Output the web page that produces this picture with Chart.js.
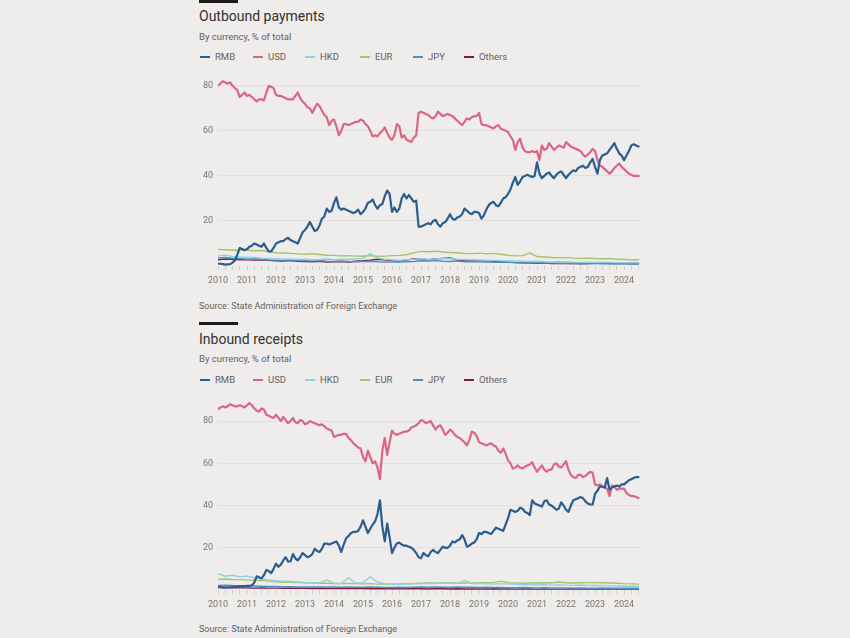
<!DOCTYPE html>
<html><head><meta charset="utf-8">
<script src="https://cdn.jsdelivr.net/npm/chart.js@4.4.1/dist/chart.umd.min.js"></script>
<style>
html,body{margin:0;padding:0}
body{background:#eeedeb;width:850px;height:638px;overflow:hidden;position:relative;font-family:Roboto,"Open Sans",sans-serif}
.bar{position:absolute;left:199px;width:39px;height:3px;background:#1d1b1a}
.title{position:absolute;left:199px;font-size:14px;line-height:14px;color:#33302e;white-space:nowrap}
.sub{position:absolute;left:199px;font-size:9.5px;line-height:10px;color:#66605c;white-space:nowrap}
.src{position:absolute;left:199px;font-size:9px;line-height:10px;color:#66605c;white-space:nowrap}
.leg{position:absolute;font-size:9.5px;line-height:10px;color:#66605c;white-space:nowrap}
.sw{position:absolute;width:10px;height:2px}
canvas{position:absolute;left:0}
</style></head>
<body>
<div class="bar" style="top:0px"></div>
<div class="title" style="top:9px">Outbound payments</div>
<div class="sub" style="top:32px">By currency, % of total</div>
<div id="leg1"></div>
<canvas id="c1" width="850" height="292" style="top:0px"></canvas>
<div class="src" style="top:301px">Source: State Administration of Foreign Exchange</div>

<div class="bar" style="top:322px"></div>
<div class="title" style="top:332px">Inbound receipts</div>
<div class="sub" style="top:354px">By currency, % of total</div>
<div id="leg2"></div>
<canvas id="c2" width="850" height="296" style="top:320px"></canvas>
<div class="src" style="top:624px">Source: State Administration of Foreign Exchange</div>

<script>
// ---- categories / labels ----
const seriesNames = ["RMB", "USD", "HKD", "EUR", "JPY", "Others"];
const seriesColors = ["#2b5c8f", "#dc6488", "#8dd3df", "#a9c06c", "#4a8fcc", "#7c1d3f"];
const yearTicks = [2010,2011,2012,2013,2014,2015,2016,2017,2018,2019,2020,2021,2022,2023,2024];
const yTickValues = [20, 40, 60, 80];
const startYear = 2010; // monthly series start Jan 2010, quarterly series start Q1 2010

// ---- Outbound payments, monthly (% of total) ----
const outRMB = [
 1,1,0.8,0.6,0.7,0.8,1.5,2.5,5,8,7.5,7,
 7.5,8.5,9,10,9.5,9,8.5,10,8,6.5,6.5,8,
 10,10.5,11,11,12,12.5,11.5,11,10.5,10,12.5,15,
 16,17.5,19.5,17.5,15.5,16,18,21,22,25.5,24,24.5,
 28,30.5,26,25,25.5,25,24.5,24,23.5,24,25,23,
 24,25.5,28,28.5,29.5,27,25.5,27,27.5,31,33.5,32,
 24,26,24,25.5,30,32,30,31.5,30,28.5,29,17.5,
 17.5,18,18.5,19,18.5,20,20.5,18.5,17.5,19,19.5,21,
 23,21,20.5,21.5,22,23,25.5,24.5,23.5,23,24,24,
 23.5,21,22.5,25,27,28,28.5,27,26.5,28,30,30.5,
 32,34,37,39.5,36,37.5,39.5,40,40.5,40,39.5,40,
 46,41,39,40,41,41.5,40,39,40.5,41.5,42,40.5,
 39,40.5,41.5,42.5,42,43.5,44,44.5,43.5,44,46,47.5,
 44,41,47,49,49.5,50,51.5,53,54.5,52,50,49,
 47,49,51,53.5,54,53.5,53];
const outUSD = [
 80,81,82,81.5,81,81.5,80,79,78,75,76,77,
 75.5,76,75,74,73,74,74,73.5,77,80,79.5,79,
 76,75.5,75.5,75,74.5,74,74,74,75.5,77,74.5,73,
 72,70.5,70,68,70,72,71,69,67,66,62.5,64.5,
 65,62,58,60,63,63,62.5,63,63.5,64,64,65,
 64.5,63,62,60,57.5,58,57.5,59,60,61.5,59,57,
 56,58,63,62,57,58,56,55.5,55,57,58,68,
 68.5,68,67.5,67,66,65.5,66.5,68.5,67.5,66.5,67,67.5,
 67,66.5,65.5,64.5,63.5,62.5,64,65.5,65,66,66.5,66.5,
 68,63,62.5,62.5,62,61.5,61,62,62.5,61,60.5,60,
 59.5,57.5,56,51.5,55,56.5,52.5,51,50.5,50.5,51,50.5,
 51,47,53.5,51.5,52,54.5,53,51.5,52.5,53.5,53,52.5,
 55,54,53,52.5,52,51.5,51,49.5,48.5,49.5,50.5,52,
 51,47,44.5,44,43,42,41,42,43.5,44.5,45.5,44,
 43,42,41,40.5,40,40,40];
// quarterly
const outHKD = [4.5,4.8,4.2,4.0, 3.8,3.9,3.5,3.3, 3.2,3.0,3.1,2.9, 3.0,2.8,2.9,3.1, 2.8,3.0,2.9,3.2, 3.4,5.5,3.5,3.0, 2.8,2.5,2.7,3.0, 3.2,3.0,3.1,3.3, 3.2,3.0,2.9,2.8, 2.7,2.6,2.5,2.4, 2.3,2.2,2.1,2.0, 2.1,1.9,1.8,1.9, 1.8,1.7,1.6,1.7, 1.6,1.7,1.6,1.5, 1.5,1.6,1.5];
const outEUR = [7.4,7.2,7.0,7.1, 7.0,6.8,6.9,6.3, 5.9,5.8,5.6,5.4, 5.2,5.5,5.1,4.8, 4.7,4.5,4.6,4.4, 4.3,4.6,4.2,4.4, 4.6,4.7,5.0,5.8, 6.5,6.3,6.6,6.2, 6.0,5.9,5.6,5.5, 5.7,5.4,5.6,5.2, 4.8,4.5,4.6,5.8, 4.2,4.0,3.8,3.7, 3.7,3.5,3.4,3.5, 3.3,3.2,3.3,3.0, 2.9,2.8,2.8];
const outJPY = [3.6,3.8,3.5,3.3, 3.0,3.2,2.9,2.7, 2.6,2.5,2.7,2.4, 2.3,2.2,2.4,2.1, 2.0,2.2,2.0,1.9, 2.0,2.1,1.9,1.8, 1.7,1.8,1.9,2.0, 2.3,2.2,2.4,2.1, 2.0,2.2,1.9,2.0, 1.9,2.0,1.8,1.7, 1.6,1.5,1.4,1.5, 1.4,1.3,1.4,1.2, 1.2,1.1,1.2,1.1, 1.1,1.0,1.1,1.0, 1.0,1.1,1.0];
const outOthers = [2.8,3.1,3.0,2.7, 2.9,2.6,2.8,2.5, 2.3,2.2,2.4,2.1, 2.0,1.9,2.1,1.8, 1.9,2.0,1.8,2.1, 2.3,2.6,3.0,2.8, 2.4,2.2,2.6,3.2, 3.0,2.8,3.1,3.4, 3.6,2.6,2.3,2.2, 2.1,2.0,1.9,1.8, 1.7,1.5,1.4,1.3, 1.2,1.3,1.1,1.2, 1.1,1.2,1.0,1.1, 1.2,1.3,1.1,1.2, 1.1,1.0,1.0];

// ---- Inbound receipts, monthly (% of total) ----
const inRMB = [
 1.5,1.5,1.2,1.2,1.3,1.3,1.5,1.5,1.6,1.8,1.8,1.9,
 2,2,2.2,3.5,6.5,6,5.5,7,9.5,9,8,10,
 12.5,11,12,14,15.5,13.5,13.5,17,15,14,15.5,17.5,
 16.5,15.5,16,17,19.5,18.5,18,19.5,22,22,21.5,22,
 22.5,23,21,18,21.5,24.5,25.5,27,27.5,27.5,28,30,
 33,30,27,29,31,32.5,36,42.5,30,23,31.5,25,
 17.5,20,22,22.5,21.5,21,21,20.5,20,19,17.5,15.5,
 15,17.5,16.5,16,18,19,18,17.5,19,20.5,20,20,
 21,23,22.5,23.5,24,26,24,20.5,21,22,22.5,24,
 27,26.5,27.5,27.5,27,26.5,28,29.5,29,28.5,28,31,
 34,38,37.5,37,37.5,39,38.5,37,36.5,35.5,42.5,41,
 40.5,40,39.5,42,42.5,40.5,40,39,38,38.5,41.5,40,
 38,37,40,42.5,43,43.5,44,43.5,42,41,40.5,40.5,
 45.5,47,49,49,48.5,53,47.5,48.5,49,49.5,49,50,
 50,51,52,52.5,53,53.5,53.5];
const inUSD = [
 85.5,86.5,87,86.5,87,88,87.5,87,87,87.5,87,86.5,
 87.5,88.5,87.5,86,85,84.5,86,85.5,83,82.5,82,81.5,
 83,81.5,80,82,80.5,79,80,81.5,79.5,79,80.5,80,
 78.5,79,80,79.5,79,78.5,78,78.5,77.5,76.5,76,75.5,
 72.5,73,73.5,73.5,74,74,72,71,69.5,68.5,67.5,67,
 63,61,66,63,60,61,58,52.5,66,72,64,70,
 75.5,74,73.5,74,74.5,75,75,75.5,77,77.5,78,79,
 80.5,80,79,79.5,80,78,76,77.5,78,76,73.5,74.5,
 76,75,73.5,72.5,72,71,70,68.5,71,75,74.5,73,
 70,69.5,69,68.5,69,69.5,68.5,68,66,65,67,64.5,
 61.5,60,57.5,58,59,58,57.5,58.5,59,59.5,60.5,58,
 56,57.5,59,57,56,57,57,59.5,60,58.5,58,59.5,
 61,57,54.5,53.5,53,54.5,54.5,53.5,54,55,56,55.5,
 50,49.5,50,49,48.5,48,44.5,49.5,49,47.5,48,48,
 48,46,45,44.5,44.5,44,43.5];
// quarterly
const inHKD = [7.8,6.5,7.0,6.2, 6.6,5.8,5.2,4.8, 4.4,4.2,4.0,3.8, 3.6,3.5,3.3,4.8, 3.2,3.0,5.8,3.2, 3.5,6.2,3.8,3.0, 2.9,2.7,2.8,3.0, 3.0,3.2,3.1,3.3, 3.2,3.0,4.6,3.1, 3.0,2.9,2.8,3.0, 2.8,2.7,2.6,2.5, 2.4,2.5,2.3,2.4, 2.3,2.2,2.4,2.2, 2.1,2.2,2.0,1.9, 1.8,1.8,1.7];
const inEUR = [5.0,5.2,5.0,4.9, 4.8,4.6,4.5,4.2, 3.9,3.7,3.6,3.5, 3.4,3.3,3.2,3.2, 3.1,3.0,3.1,3.0, 2.9,3.0,2.8,2.9, 2.8,2.9,3.0,3.1, 3.2,3.3,3.2,3.4, 3.3,3.2,3.3,3.4, 3.3,3.4,3.5,4.2, 3.5,3.3,3.2,3.3, 3.4,3.3,3.4,3.8, 3.4,3.3,3.4,3.5, 3.5,3.4,3.3,3.2, 3.0,2.9,2.8];
const inJPY = [2.2,2.3,2.1,2.0, 2.0,1.9,1.8,1.7, 1.7,1.6,1.6,1.5, 1.5,1.4,1.5,1.4, 1.4,1.3,1.4,1.3, 1.3,1.4,1.3,1.2, 1.2,1.3,1.2,1.3, 1.4,1.3,1.4,1.3, 1.3,1.4,1.3,1.3, 1.2,1.3,1.2,1.2, 1.1,1.1,1.2,1.1, 1.0,1.1,1.0,1.0, 1.0,0.9,1.0,0.9, 0.9,1.0,0.9,0.9, 0.9,0.8,0.9];
const inOthers = [1.2,1.1,1.2,1.0, 1.0,0.9,1.0,0.9, 0.9,0.8,0.9,0.8, 0.8,0.7,0.8,0.7, 0.7,0.8,0.7,0.7, 0.7,0.6,0.7,0.6, 0.6,0.7,0.6,0.6, 0.6,0.5,0.6,0.6, 0.5,0.6,0.5,0.5, 0.5,0.5,0.6,0.5, 0.5,0.4,0.5,0.5, 0.4,0.5,0.4,0.4, 0.4,0.5,0.4,0.4, 0.4,0.4,0.5,0.4, 0.4,0.4,0.4];

// ---- helpers ----
const monthly = arr => arr.map((v, i) => ({x: startYear + i / 12, y: v}));
const quarterly = arr => arr.map((v, i) => ({x: startYear + i / 4, y: v}));

function buildLegend(id, top) {
  const xs = [200, 253, 305, 360, 413, 464];
  const el = document.getElementById(id);
  seriesNames.forEach((n, i) => {
    const s = document.createElement('div');
    s.className = 'sw'; s.style.left = xs[i] + 'px'; s.style.top = (top - 1) + 'px';
    s.style.background = seriesColors[i]; el.appendChild(s);
    const t = document.createElement('div');
    t.className = 'leg'; t.style.left = (xs[i] + 15) + 'px'; t.style.top = (top - 5) + 'px';
    t.textContent = n; el.appendChild(t);
  });
}
buildLegend('leg1', 57);
buildLegend('leg2', 380);

const tickFont = {family: 'Roboto, sans-serif', size: 9};
const tickColor = '#7a736e';

function makeChart(id, series, ymax, padTop) {
  const widths = [2.2, 2.2, 1.4, 1.4, 1.4, 1.4];
  const datasets = series.map((pts, i) => ({
    label: seriesNames[i], data: pts, borderColor: seriesColors[i],
    borderWidth: widths[i], pointRadius: 0, tension: 0, fill: false,
    borderJoinStyle: 'round', borderCapStyle: 'round'
  }));
  return new Chart(document.getElementById(id), {
    type: 'line',
    data: {datasets},
    options: {
      responsive: false, animation: false, events: [],
      layout: {padding: {left: 0, right: 210, top: padTop, bottom: 0}},
      plugins: {legend: {display: false}, tooltip: {enabled: false}},
      scales: {
        x: {
          type: 'linear', min: 2010, max: 2024.55,
          afterFit: s => { s.height = 26; },
          afterBuildTicks: s => {
            const t = [];
            for (let q = 0; q <= 58; q++) t.push({value: 2010 + q / 4});
            s.ticks = t;
          },
          ticks: {
            autoSkip: false, maxRotation: 0, minRotation: 0, padding: 5,
            font: tickFont, color: tickColor,
            callback: v => (Math.abs(v - Math.round(v)) < 1e-6 && yearTicks.includes(Math.round(v))) ? String(Math.round(v)) : ''
          },
          grid: {drawOnChartArea: false, drawTicks: true, tickLength: 4, color: '#d3cfcb'},
          border: {display: false}
        },
        y: {
          min: 0, max: ymax,
          afterFit: s => { s.width = 218; },
          afterBuildTicks: s => { s.ticks = yTickValues.map(v => ({value: v})); },
          ticks: {padding: 5, font: tickFont, color: tickColor},
          grid: {color: '#e1dfdb', drawTicks: false, lineWidth: 1},
          border: {display: false}
        }
      }
    }
  });
}

makeChart('c1', [monthly(outRMB), monthly(outUSD), quarterly(outHKD), quarterly(outEUR), quarterly(outJPY), quarterly(outOthers)], 83, 79);
makeChart('c2', [monthly(inRMB), monthly(inUSD), quarterly(inHKD), quarterly(inEUR), quarterly(inJPY), quarterly(inOthers)], 90, 80);
</script>
</body></html>
